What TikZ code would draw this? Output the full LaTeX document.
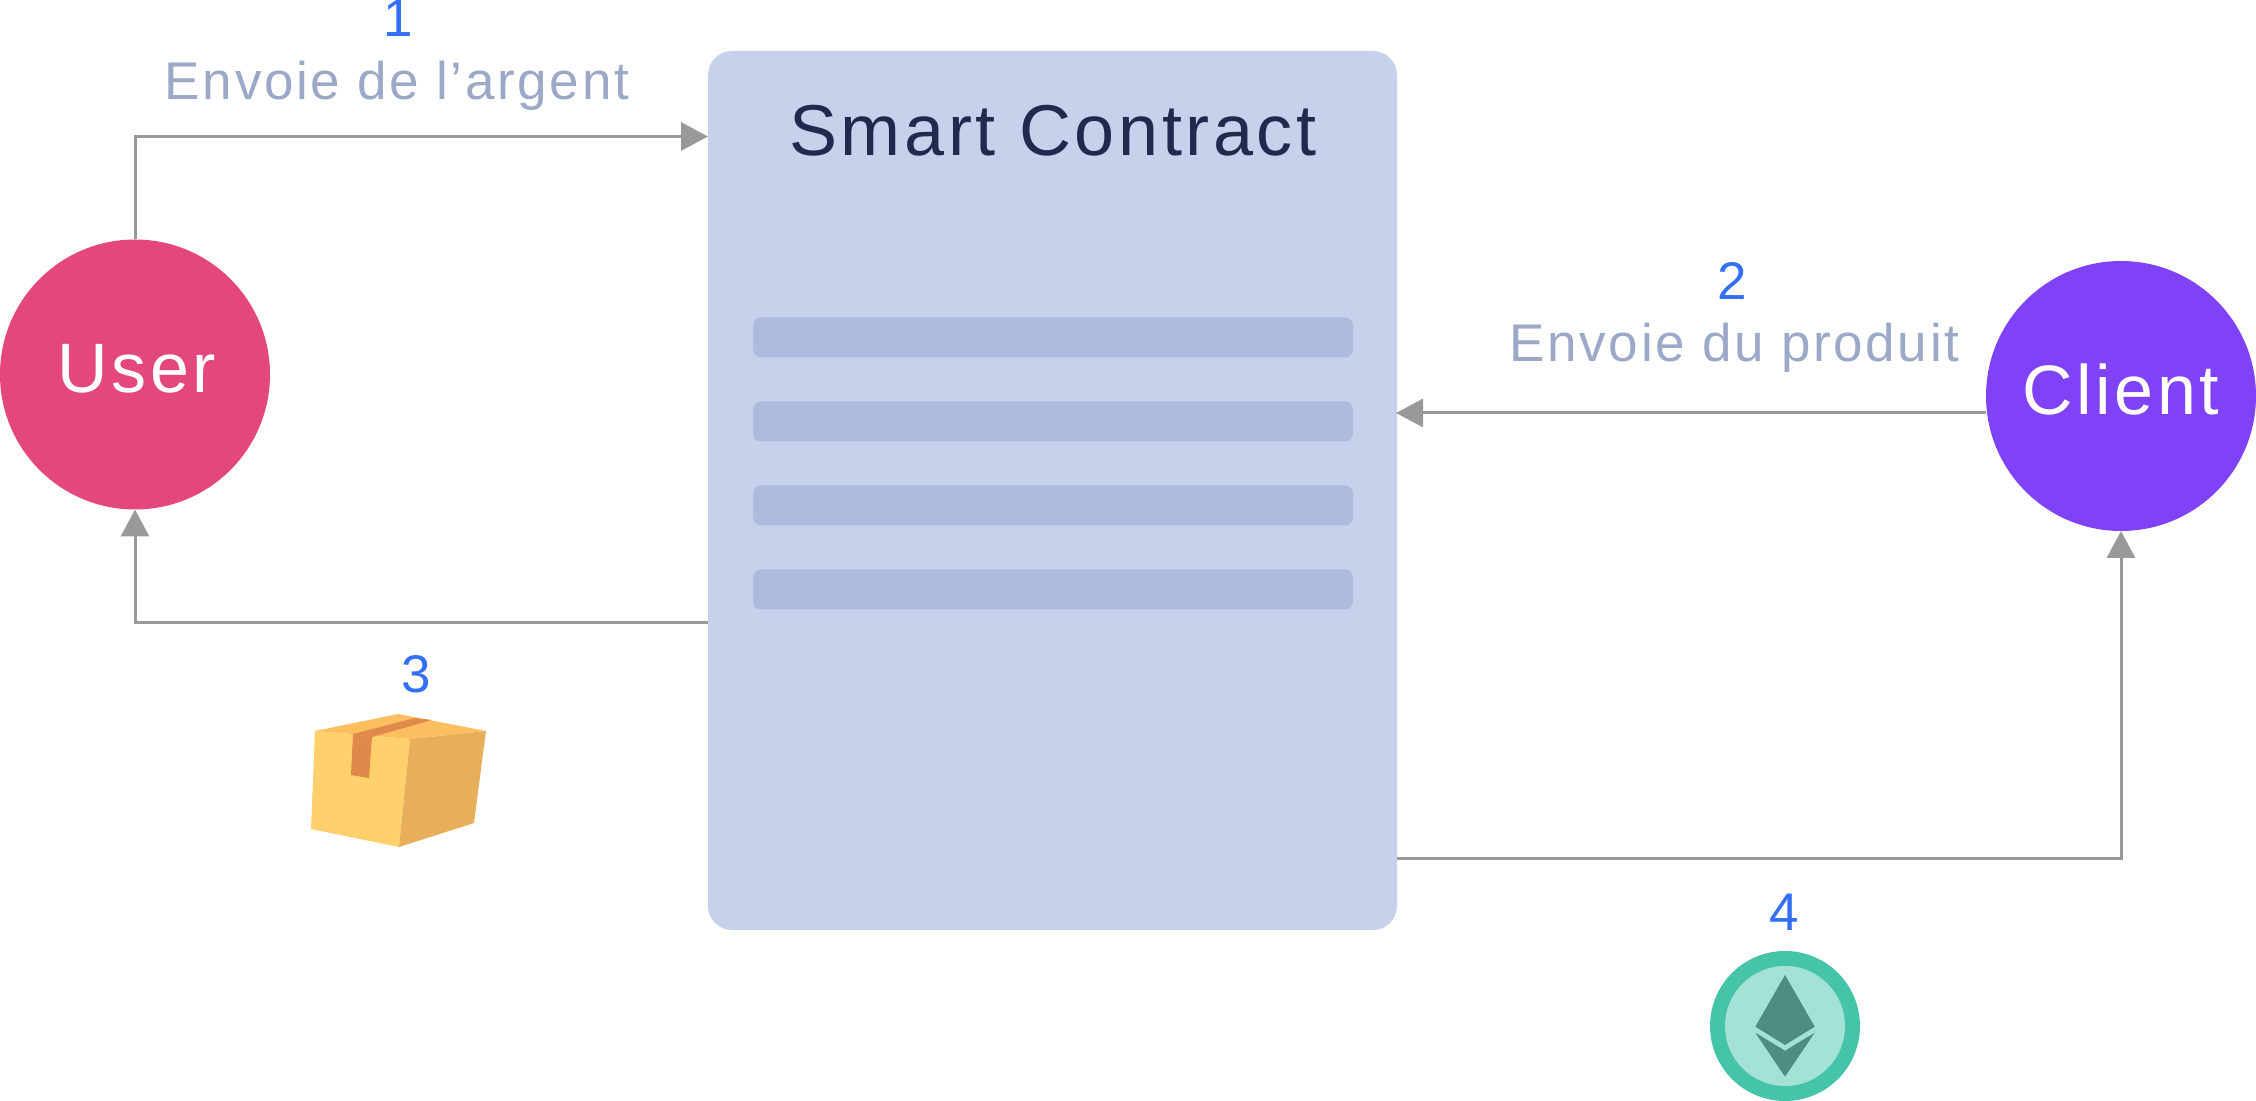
\documentclass[tikz,border=0pt]{standalone}
\usepackage{fontspec}
\setmainfont{Liberation Sans}
\newfontfamily\spaced[LetterSpace=5]{Liberation Sans}
\usetikzlibrary{arrows.meta}
\definecolor{panel}{HTML}{C6D1EB}
\definecolor{barc}{HTML}{ADBBDD}
\definecolor{userc}{HTML}{E4477D}
\definecolor{clientc}{HTML}{7F42F7}
\definecolor{labelc}{HTML}{9BA8C7}
\definecolor{numc}{HTML}{3370F5}
\definecolor{titlec}{HTML}{1F2A4D}
\definecolor{linec}{HTML}{999999}
\definecolor{boxfront}{HTML}{FFD06B}
\definecolor{boxtop}{HTML}{FDBE5F}
\definecolor{boxside}{HTML}{E8AF5B}
\definecolor{tape}{HTML}{DF8A4B}
\definecolor{ethring}{HTML}{46C4A9}
\definecolor{ethin}{HTML}{A5E2D6}
\definecolor{ethd}{HTML}{4D8E80}
\tikzset{
  actor/.style={circle,minimum size=135pt,inner sep=0pt,outer sep=0pt},
  barbox/.style={fill=barc,rounded corners=4pt,minimum width=300pt,minimum height=20pt,inner sep=0pt},
  conn/.style={draw=linec,line width=1.5pt,-{Triangle[length=13.5pt,width=14pt,fill=linec]}},
  numtext/.style={anchor=base,text=numc,font=\spaced\fontsize{26.5pt}{30pt}\selectfont,inner sep=0pt},
  captext/.style={anchor=base,text=labelc,font=\spaced\fontsize{26.5pt}{30pt}\selectfont,inner sep=0pt},
  actortext/.style={anchor=base,text=white,font=\spaced\fontsize{35pt}{40pt}\selectfont,inner sep=0pt},
}
\begin{document}
\begin{tikzpicture}[x=0.5pt,y=-0.5pt]
\useasboundingbox (0,0) rectangle (2256,1101);
\node[fill=panel,rounded corners=12pt,minimum width=344.5pt,minimum height=439.5pt,inner sep=0pt,outer sep=0pt] (contract) at (1052.5,490.5) {};
\node[barbox] (b1) at (1053,337.5) {};
\node[barbox] (b2) at (1053,421.5) {};
\node[barbox] (b3) at (1053,505.5) {};
\node[barbox] (b4) at (1053,589.5) {};
\node[anchor=base,text=titlec,font=\spaced\fontsize{36pt}{40pt}\selectfont,inner sep=0pt] (title) at (1053,156) {Smart Contract};
\node[actor,fill=userc] (user) at (135,374.5) {};
\node[actor,fill=clientc] (client) at (2121,396) {};
\node[actortext] (usert) at (137,393) {User};
\node[actortext] (clientt) at (2121,415) {Client};
\coordinate (in1) at (708,136.5);
\coordinate (out2) at (1986,413);
\coordinate (in2) at (1396,413);
\coordinate (out3) at (708,622.5);
\coordinate (out4) at (1397,858);
\draw[conn] (user.north) |- (in1);
\draw[conn] (out2) -- (in2);
\draw[conn] (out3) -| (user.south);
\draw[conn] (out4) -| (client.south);
\node[numtext] (n1) at (398,36.5) {1};
\node[captext] (l1) at (397,100) {Envoie de l’argent};
\node[numtext] (n2) at (1732,300) {2};
\node[captext] (l2) at (1734.5,362) {Envoie du produit};
\node[numtext] (n3) at (416,692) {3};
\node[numtext] (n4) at (1784,930) {4};
% box
\fill[boxtop] (398,714) -- (486,731) -- (410,739) -- (315,731) -- cycle;
\fill[boxfront] (315,731) -- (410,739) -- (399,847) -- (311,829) -- cycle;
\fill[boxside] (410,739) -- (486,731) -- (474,823) -- (399,847) -- cycle;
\fill[tape] (353,734) -- (372,737) -- (369,778) -- (351,775) -- cycle;
\fill[tape] (353,734) -- (372,737) -- (432,720) -- (415,718) -- cycle;
% coin
\fill[ethring] (1785,1026) circle[radius=75];
\fill[ethin] (1785,1026) circle[radius=60];
\fill[ethd] (1785,975) -- (1814.7,1026.7) -- (1785,1045) -- (1755.3,1026.7) -- cycle;
\fill[ethd] (1755.3,1032.7) -- (1785,1050.7) -- (1814.7,1032.7) -- (1785,1076.7) -- cycle;
\end{tikzpicture}
\end{document}
